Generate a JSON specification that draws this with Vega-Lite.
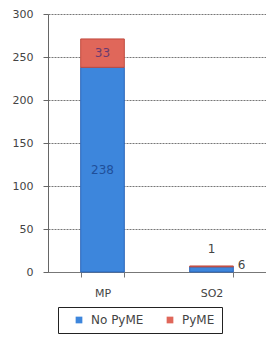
{
  "$schema": "https://vega.github.io/schema/vega-lite/v6.json",
  "autosize": "none",
  "width": 218,
  "height": 258,
  "padding": {"left": 48, "top": 14, "right": 0, "bottom": 65},
  "background": "white",
  "config": {
    "view": {"stroke": null},
    "font": "DejaVu Sans",
    "axis": {"labelFont": "DejaVu Sans", "labelColor": "#444", "labelFontSize": 11}
  },
  "data": {
    "values": [
      {"cat": "MP", "tipo": "No PyME", "valor": 238, "ord": 1},
      {"cat": "MP", "tipo": "PyME", "valor": 33, "ord": 2},
      {"cat": "SO2", "tipo": "No PyME", "valor": 6, "ord": 1},
      {"cat": "SO2", "tipo": "PyME", "valor": 1, "ord": 2}
    ]
  },
  "transform": [
    {"stack": "valor", "groupby": ["cat"], "sort": [{"field": "ord"}], "as": ["v0", "v1"]}
  ],
  "encoding": {
    "x": {
      "field": "cat", "type": "nominal", "sort": ["MP", "SO2"],
      "scale": {"paddingInner": 0.6, "paddingOuter": 0.3},
      "axis": {"title": null, "labelAngle": 0, "tickBand": "extent", "domainColor": "#777", "tickColor": "#777", "tickSize": 5, "labelPadding": 10, "labelFontSize": 11}
    },
    "y": {
      "field": "v1", "type": "quantitative",
      "scale": {"domain": [0, 300]},
      "axis": {"title": null, "values": [0, 50, 100, 150, 200, 250, 300], "gridColor": "#777", "gridDash": [2, 1], "domainColor": "#666", "tickColor": "#666", "tickSize": 5, "labelPadding": 10}
    }
  },
  "layer": [
    {
      "mark": {"type": "bar", "strokeWidth": 1},
      "encoding": {
        "y2": {"field": "v0"},
        "color": {
          "field": "tipo", "type": "nominal",
          "scale": {"domain": ["No PyME", "PyME"], "range": ["#3d86dc", "#e0675a"]},
          "legend": {"title": null, "orient": "none", "legendX": 10, "legendY": 293, "direction": "horizontal", "strokeColor": "#222", "padding": 7, "symbolType": "square", "symbolSize": 45, "labelFontSize": 12, "labelColor": "#444", "columnPadding": 12, "symbolStrokeWidth": 0, "symbolOffset": 8, "labelOffset": 6}
        },
        "stroke": {
          "field": "tipo", "type": "nominal",
          "scale": {"domain": ["No PyME", "PyME"], "range": ["#2a64b8", "#c04a3e"]},
          "legend": null
        }
      }
    },
    {
      "transform": [{"filter": "datum.cat == 'MP' && datum.tipo == 'No PyME'"}],
      "mark": {"type": "text", "fontSize": 12, "dy": 103, "color": "#1f4f9a"},
      "encoding": {"text": {"field": "valor", "type": "quantitative"}}
    },
    {
      "transform": [{"filter": "datum.cat == 'MP' && datum.tipo == 'PyME'"}],
      "mark": {"type": "text", "fontSize": 12, "dy": 14, "color": "#6a3a70"},
      "encoding": {"text": {"field": "valor", "type": "quantitative"}}
    },
    {
      "transform": [{"filter": "datum.cat == 'SO2' && datum.tipo == 'No PyME'"}],
      "mark": {"type": "text", "fontSize": 12, "dx": 30, "dy": -2, "color": "#444"},
      "encoding": {"text": {"field": "valor", "type": "quantitative"}}
    },
    {
      "transform": [{"filter": "datum.cat == 'SO2' && datum.tipo == 'PyME'"}],
      "mark": {"type": "text", "fontSize": 12, "dy": -17, "color": "#444"},
      "encoding": {"text": {"field": "valor", "type": "quantitative"}}
    }
  ]
}
